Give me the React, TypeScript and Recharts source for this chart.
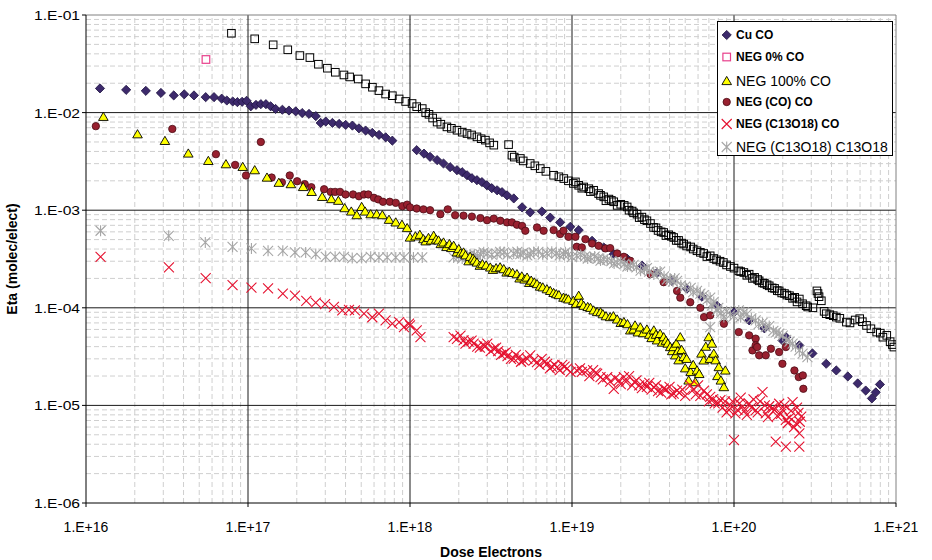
import { ScatterChart, Scatter, XAxis, YAxis, ReferenceLine, Legend, Label } from "recharts";

const FONT = "'Liberation Sans', Arial, sans-serif";

// axis decades and their printed labels
const xDecades = [1e16, 1e17, 1e18, 1e19, 1e20, 1e21];
const xTickLabels = ["1.E+16", "1.E+17", "1.E+18", "1.E+19", "1.E+20", "1.E+21"];
const yDecades = [1e-6, 1e-5, 1e-4, 1e-3, 1e-2, 1e-1];
const yTickLabels = ["1.E-06", "1.E-05", "1.E-04", "1.E-03", "1.E-02", "1.E-01"];
const minorSteps = [2, 3, 4, 5, 6, 7, 8, 9];

const seriesNames = [
  "Cu CO",
  "NEG 0% CO",
  "NEG 100% CO",
  "NEG (CO) CO",
  "NEG (C13O18) CO",
  "NEG (C13O18) C13O18",
];

// [dose, eta] pairs
const cuCO: [number, number][] = [
  [1.22e16, 1.77e-2], [1.77e16, 1.71e-2], [2.34e16, 1.67e-2], [2.9e16, 1.59e-2], [3.48e16, 1.5e-2],
  [4.04e16, 1.54e-2], [4.64e16, 1.5e-2], [5.48e16, 1.44e-2], [6.17e16, 1.44e-2], [6.88e16, 1.39e-2],
  [7.4e16, 1.33e-2], [8.05e16, 1.3e-2], [8.6e16, 1.28e-2], [9.2e16, 1.29e-2], [9.8e16, 1.32e-2],
  [1.04e17, 1.16e-2], [1.12e17, 1.2e-2], [1.2e17, 1.22e-2], [1.29e17, 1.22e-2], [1.38e17, 1.16e-2],
  [1.48e17, 1.09e-2], [1.63e17, 1.07e-2], [1.79e17, 1.05e-2], [1.97e17, 1.03e-2], [2.16e17, 9.9e-3],
  [2.38e17, 9.7e-3], [2.62e17, 9.2e-3], [2.81e17, 7.84e-3], [3.02e17, 8.1e-3], [3.32e17, 7.84e-3],
  [3.65e17, 7.66e-3], [4.01e17, 7.48e-3], [4.41e17, 7.36e-3], [4.84e17, 6.9e-3], [5.32e17, 6.55e-3],
  [5.85e17, 6.2e-3], [6.44e17, 5.91e-3], [7.08e17, 5.58e-3], [7.78e17, 5.16e-3],
  [1.1e18, 4.12e-3], [1.22e18, 3.8e-3], [1.33e18, 3.52e-3], [1.47e18, 3.26e-3], [1.61e18, 3.01e-3],
  [1.77e18, 2.76e-3], [1.95e18, 2.57e-3], [2.1e18, 2.45e-3], [2.25e18, 2.28e-3], [2.41e18, 2.13e-3],
  [2.59e18, 2.03e-3], [2.78e18, 1.94e-3], [2.98e18, 1.8e-3], [3.2e18, 1.68e-3], [3.45e18, 1.6e-3],
  [3.7e18, 1.53e-3], [3.97e18, 1.42e-3], [4.37e18, 1.32e-3], [4.92e18, 1.07e-3], [5.52e18, 9.5e-4],
  [6.52e18, 9.7e-4], [7.34e18, 8.4e-4], [8.45e18, 7.5e-4], [9.76e18, 6.76e-4], [1.1e19, 6.25e-4],
  [1.33e19, 4.86e-4], [1.57e19, 4.15e-4], [1.81e19, 3.55e-4], [2.19e19, 3.18e-4], [2.71e19, 2.7e-4],
  [3.35e19, 2.28e-4], [4.14e19, 1.89e-4], [5.12e19, 1.57e-4], [6.34e19, 1.3e-4], [7.85e19, 1.05e-4],
  [1.0e20, 8.98e-5], [1.24e20, 7.44e-5], [1.54e20, 6.16e-5], [1.99e20, 4.64e-5], [2.1e20, 4.98e-5],
  [2.53e20, 4.12e-5], [3.05e20, 3.41e-5], [3.71e20, 2.67e-5], [4.28e20, 2.28e-5], [5.04e20, 1.98e-5],
  [5.8e20, 1.68e-5], [6.5e20, 1.42e-5], [7.1e20, 1.18e-5], [7.5e20, 1.36e-5], [7.96e20, 1.64e-5],
];

const neg0CO: [number, number][] = [[5.5e16, 3.5e-2]];

// black open squares (no legend entry)
const neg0Black: [number, number][] = [
  [7.9e16, 6.5e-2], [1.1e17, 5.7e-2], [1.43e17, 4.95e-2], [1.76e17, 4.4e-2], [2.09e17, 3.84e-2],
  [2.41e17, 3.66e-2], [2.72e17, 3.13e-2], [3.09e17, 2.85e-2], [3.46e17, 2.59e-2], [3.91e17, 2.43e-2],
  [4.24e17, 2.32e-2], [4.79e17, 2.21e-2], [5.32e17, 1.97e-2], [5.86e17, 1.82e-2], [6.43e17, 1.68e-2],
  [7.07e17, 1.55e-2], [7.78e17, 1.49e-2], [8.57e17, 1.38e-2], [9.4e17, 1.3e-2],
  [1.03e18, 1.24e-2], [1.1e18, 1.15e-2], [1.19e18, 1.1e-2], [1.25e18, 1.0e-2], [1.31e18, 9.6e-3],
  [1.38e18, 8.8e-3], [1.47e18, 8.0e-3], [1.55e18, 7.6e-3], [1.69e18, 7.14e-3], [1.8e18, 6.9e-3],
  [1.95e18, 6.6e-3], [2.1e18, 6.3e-3], [2.25e18, 6.1e-3], [2.4e18, 5.9e-3], [2.59e18, 5.64e-3],
  [2.75e18, 5.4e-3], [2.92e18, 5.22e-3], [3.1e18, 4.9e-3], [3.29e18, 4.64e-3], [4.06e18, 4.7e-3],
  [4.26e18, 3.66e-3], [4.4e18, 3.5e-3], [4.8e18, 3.39e-3], [5.0e18, 3.2e-3], [5.52e18, 3.01e-3],
  [5.9e18, 2.85e-3], [6.37e18, 2.67e-3], [6.9e18, 2.5e-3], [7.7e18, 2.28e-3], [8.3e18, 2.2e-3],
  [8.9e18, 2.11e-3], [9.5e18, 2.0e-3], [1.02e19, 1.88e-3], [1.05e19, 1.95e-3], [1.1e19, 1.8e-3],
  [1.15e19, 1.68e-3], [1.18e19, 1.73e-3], [1.27e19, 1.66e-3], [1.3e19, 1.55e-3], [1.36e19, 1.6e-3],
  [1.46e19, 1.48e-3], [1.5e19, 1.42e-3], [1.57e19, 1.37e-3], [1.62e19, 1.25e-3], [1.69e19, 1.3e-3],
  [1.75e19, 1.26e-3], [1.81e19, 1.22e-3], [1.9e19, 1.12e-3], [2.0e19, 1.15e-3], [2.1e19, 1.12e-3],
  [2.19e19, 1.08e-3], [2.25e19, 1.0e-3], [2.35e19, 9.8e-4], [2.4e19, 9.4e-4], [2.52e19, 9.1e-4],
  [2.6e19, 8.4e-4], [2.7e19, 8.5e-4], [2.8e19, 8.0e-4], [2.9e19, 7.79e-4], [3.05e19, 7.3e-4],
  [3.19e19, 6.66e-4], [3.3e19, 6.6e-4], [3.4e19, 6.2e-4], [3.55e19, 6.0e-4], [3.68e19, 5.91e-4],
  [3.8e19, 5.5e-4], [3.95e19, 5.6e-4], [4.1e19, 5.4e-4], [4.24e19, 5.25e-4], [4.4e19, 4.9e-4],
  [4.55e19, 4.9e-4], [4.75e19, 4.6e-4], [4.89e19, 4.5e-4], [5.1e19, 4.3e-4], [5.4e19, 4.2e-4],
  [5.6e19, 4.0e-4], [5.91e19, 3.84e-4], [6.2e19, 3.7e-4], [6.5e19, 3.6e-4], [6.8e19, 3.35e-4],
  [7.13e19, 3.41e-4], [7.5e19, 3.2e-4], [7.8e19, 3.1e-4], [8.2e19, 3.0e-4], [8.6e19, 2.91e-4],
  [9.0e19, 2.75e-4], [9.5e19, 2.65e-4], [1.0e20, 2.55e-4], [1.07e20, 2.39e-4], [1.1e20, 2.35e-4],
  [1.15e20, 2.3e-4], [1.2e20, 2.15e-4], [1.24e20, 2.21e-4], [1.3e20, 2.0e-4], [1.34e20, 2.05e-4],
  [1.4e20, 1.95e-4], [1.43e20, 1.89e-4], [1.5e20, 1.8e-4], [1.54e20, 1.78e-4], [1.6e20, 1.72e-4],
  [1.65e20, 1.68e-4], [1.72e20, 1.6e-4], [1.78e20, 1.58e-4], [1.85e20, 1.5e-4], [1.9e20, 1.49e-4],
  [1.97e20, 1.42e-4], [2.05e20, 1.4e-4], [2.12e20, 1.35e-4], [2.2e20, 1.33e-4], [2.3e20, 1.25e-4],
  [2.37e20, 1.28e-4], [2.45e20, 1.15e-4], [2.53e20, 1.23e-4], [2.65e20, 1.1e-4], [2.79e20, 1.05e-4],
  [2.85e20, 1.02e-4], [3.07e20, 1.0e-4], [3.25e20, 1.49e-4], [3.3e20, 1.4e-4], [3.35e20, 1.3e-4],
  [3.46e20, 1.18e-4], [3.6e20, 9.2e-5], [3.71e20, 8.7e-5], [3.9e20, 8.5e-5], [4.1e20, 8.3e-5],
  [4.28e20, 8.03e-5], [4.5e20, 7.8e-5], [4.94e20, 7.14e-5], [5.2e20, 7.0e-5], [5.6e20, 7.5e-5],
  [5.97e20, 7.74e-5], [6.2e20, 7.2e-5], [6.58e20, 6.6e-5], [7.0e20, 6.1e-5], [7.6e20, 5.64e-5],
  [8.0e20, 5.5e-5], [8.3e20, 5.0e-5], [8.77e20, 5.22e-5], [9.2e20, 4.5e-5], [9.5e20, 4.2e-5],
  [9.7e20, 3.96e-5],
];

const neg100CO: [number, number][] = [
  [1.28e16, 9.05e-3], [2.08e16, 6.0e-3], [3.07e16, 5.13e-3], [4.28e16, 3.81e-3], [5.69e16, 3.2e-3],
  [7.31e16, 2.96e-3], [9.28e16, 2.78e-3], [1.1e17, 2.57e-3], [1.31e17, 2.16e-3], [1.55e17, 1.91e-3],
  [1.84e17, 1.85e-3], [2.19e17, 1.73e-3], [2.47e17, 1.54e-3], [2.87e17, 1.37e-3], [3.27e17, 1.3e-3],
  [3.61e17, 1.25e-3], [3.95e17, 1.05e-3], [4.34e17, 9.7e-4], [4.69e17, 8.9e-4], [5.03e17, 1.08e-3],
  [5.28e17, 9.7e-4], [5.72e17, 9.1e-4], [6.23e17, 9.1e-4], [6.75e17, 8.9e-4], [7.42e17, 7.98e-4],
  [8.17e17, 7.5e-4], [8.92e17, 7.1e-4], [9.6e17, 6.56e-4], [1.0e18, 5.25e-4], [1.08e18, 5.4e-4],
  [1.15e18, 5.6e-4], [1.21e18, 5.05e-4], [1.25e18, 4.8e-4], [1.3e18, 5.2e-4], [1.35e18, 4.9e-4],
  [1.4e18, 5.47e-4], [1.45e18, 5.0e-4], [1.5e18, 4.9e-4], [1.55e18, 4.5e-4], [1.61e18, 4.67e-4],
  [1.68e18, 4.2e-4], [1.75e18, 4.5e-4], [1.8e18, 4.1e-4], [1.86e18, 4.32e-4], [1.95e18, 3.7e-4],
  [2.0e18, 4.0e-4], [2.05e18, 3.6e-4], [2.14e18, 3.69e-4], [2.2e18, 3.45e-4], [2.3e18, 3.0e-4],
  [2.35e18, 3.33e-4], [2.45e18, 3.2e-4], [2.5e18, 3.05e-4], [2.59e18, 2.91e-4], [2.7e18, 2.7e-4],
  [2.8e18, 2.8e-4], [2.95e18, 2.72e-4], [3.13e18, 2.59e-4], [3.25e18, 2.45e-4], [3.4e18, 2.55e-4],
  [3.6e18, 2.6e-4], [3.79e18, 2.49e-4], [3.95e18, 2.3e-4], [4.1e18, 2.35e-4], [4.3e18, 2.28e-4],
  [4.57e18, 2.21e-4], [4.75e18, 2.0e-4], [4.9e18, 2.1e-4], [5.1e18, 1.95e-4], [5.28e18, 2.04e-4],
  [5.45e18, 1.8e-4], [5.6e18, 1.9e-4], [5.85e18, 1.82e-4], [6.08e18, 1.75e-4], [6.35e18, 1.65e-4],
  [6.6e18, 1.62e-4], [7.0e18, 1.55e-4], [7.34e18, 1.49e-4], [7.7e18, 1.42e-4], [8.0e18, 1.38e-4],
  [8.3e18, 1.35e-4], [8.86e18, 1.27e-4], [9.2e18, 1.25e-4], [9.5e18, 1.22e-4], [1.02e19, 1.18e-4],
  [1.06e19, 1.1e-4], [1.1e19, 1.33e-4], [1.14e19, 1.12e-4], [1.18e19, 1.05e-4], [1.25e19, 1.02e-4],
  [1.3e19, 1.0e-4], [1.36e19, 9.4e-5], [1.43e19, 9.05e-5], [1.5e19, 9.0e-5], [1.55e19, 8.6e-5],
  [1.62e19, 8.2e-5], [1.72e19, 8.03e-5], [1.8e19, 8.2e-5], [1.9e19, 7.6e-5], [2.0e19, 7.0e-5],
  [2.09e19, 7.14e-5], [2.2e19, 6.8e-5], [2.29e19, 5.87e-5], [2.4e19, 6.0e-5], [2.45e19, 6.6e-5],
  [2.55e19, 5.6e-5], [2.64e19, 6.3e-5], [2.75e19, 5.5e-5], [2.9e19, 6.0e-5], [3.0e19, 5.3e-5],
  [3.1e19, 4.9e-5], [3.2e19, 5.87e-5], [3.3e19, 5.3e-5], [3.35e19, 4.64e-5], [3.5e19, 5.4e-5],
  [3.6e19, 4.4e-5], [3.68e19, 5.0e-5], [3.8e19, 4.6e-5], [3.9e19, 4.3e-5], [4.04e19, 3.96e-5],
  [4.15e19, 3.6e-5], [4.24e19, 3.96e-5], [4.34e19, 3.26e-5], [4.4e19, 4.3e-5], [4.5e19, 3.6e-5],
  [4.55e19, 2.9e-5], [4.66e19, 5.0e-5], [4.75e19, 3.7e-5], [4.89e19, 3.13e-5], [5.0e19, 2.4e-5],
  [5.1e19, 3.0e-5], [5.25e19, 1.8e-5], [5.4e19, 2.2e-5], [5.6e19, 2.6e-5], [5.77e19, 1.73e-5],
  [5.91e19, 2.28e-5], [6.1e19, 2.1e-5], [6.3e19, 3.4e-5], [6.5e19, 2.89e-5], [6.7e19, 4.0e-5],
  [6.98e19, 5.0e-5], [7.1e19, 3.0e-5], [7.3e19, 4.3e-5], [7.5e19, 3.39e-5], [7.7e19, 2.9e-5],
  [7.9e19, 2.0e-5], [8.06e19, 2.47e-5], [8.3e19, 1.8e-5], [8.66e19, 1.54e-5], [8.84e19, 2.28e-5],
];

const negCOCO: [number, number][] = [
  [1.15e16, 7.26e-3], [3.41e16, 6.8e-3], [6.34e16, 3.75e-3], [8.33e16, 2.91e-3], [9.72e16, 2.27e-3],
  [1.2e17, 5.0e-3], [1.4e17, 2.16e-3], [1.62e17, 1.93e-3], [1.81e17, 2.27e-3], [2.01e17, 1.98e-3],
  [2.24e17, 1.85e-3], [2.46e17, 1.72e-3], [2.95e17, 1.64e-3], [3.24e17, 1.54e-3], [3.45e17, 1.54e-3],
  [3.7e17, 1.54e-3], [4.0e17, 1.45e-3], [4.45e17, 1.45e-3], [4.84e17, 1.39e-3], [5.2e17, 1.45e-3],
  [5.53e17, 1.45e-3], [5.99e17, 1.34e-3], [6.37e17, 1.29e-3], [6.81e17, 1.22e-3], [7.5e17, 1.22e-3],
  [8.17e17, 1.19e-3], [8.97e17, 1.1e-3], [9.6e17, 1.14e-3], [1.0e18, 1.07e-3], [1.1e18, 1.04e-3],
  [1.21e18, 1.02e-3], [1.33e18, 1.0e-3], [1.54e18, 9.1e-4], [1.71e18, 1.02e-3], [1.9e18, 8.9e-4],
  [2.14e18, 8.8e-4], [2.41e18, 8.6e-4], [2.72e18, 8.3e-4], [2.99e18, 7.9e-4], [3.29e18, 8.2e-4],
  [3.61e18, 7.8e-4], [3.97e18, 7.5e-4], [4.26e18, 7.5e-4], [4.57e18, 7.1e-4], [4.92e18, 6.9e-4],
  [5.15e18, 6.16e-4], [6.08e18, 6.66e-4], [6.68e18, 6.16e-4], [7.7e18, 6.25e-4], [8.45e18, 5.7e-4],
  [8.86e18, 6.16e-4], [9.52e18, 5.34e-4], [1.05e19, 5.34e-4], [1.07e19, 4.22e-4], [1.15e19, 4.15e-4],
  [1.21e19, 5.05e-4], [1.33e19, 4.56e-4], [1.46e19, 4.32e-4], [1.61e19, 4.06e-4], [1.72e19, 4.09e-4],
  [1.9e19, 3.6e-4], [2.09e19, 3.33e-4], [2.29e19, 3.03e-4], [3.05e19, 2.21e-4], [3.68e19, 1.83e-4],
  [4.45e19, 1.49e-4], [4.66e19, 1.27e-4], [5.37e19, 1.14e-4], [6.2e19, 1.0e-4], [6.53e19, 8.03e-5],
  [7.13e19, 8.37e-5], [8.66e19, 6.87e-5], [1.07e20, 5.64e-5], [1.24e20, 5.22e-5], [1.3e20, 3.66e-5],
  [1.36e20, 4.83e-5], [1.36e20, 4.12e-5], [1.39e20, 3.96e-5], [1.43e20, 3.26e-5], [1.57e20, 3.26e-5],
  [1.69e20, 3.81e-5], [1.9e20, 3.52e-5], [1.99e20, 2.67e-5], [2.09e20, 3.96e-5], [2.36e20, 2.28e-5],
  [2.51e20, 1.95e-5], [2.66e20, 2.03e-5], [2.68e20, 1.48e-5],
];

const negC13CO: [number, number][] = [
  [1.23e16, 3.33e-4], [3.25e16, 2.59e-4], [5.48e16, 2.01e-4], [8.03e16, 1.71e-4], [1.05e17, 1.61e-4],
  [1.33e17, 1.58e-4], [1.64e17, 1.4e-4], [1.95e17, 1.33e-4], [2.29e17, 1.18e-4], [2.62e17, 1.13e-4],
  [2.99e17, 1.09e-4], [3.39e17, 1.02e-4], [3.82e17, 9.4e-5], [4.2e17, 9.5e-5], [4.57e17, 9.4e-5],
  [5.2e17, 8.7e-5], [5.85e17, 8.0e-5], [6.43e17, 8.7e-5], [7.07e17, 7.44e-5], [7.78e17, 6.87e-5],
  [8.57e17, 7.14e-5], [9.18e17, 6.34e-5], [9.86e17, 6.87e-5], [1.0e18, 6.6e-5], [1.1e18, 5.87e-5],
  [1.16e18, 5.0e-5], [1.86e18, 5.0e-5], [1.95e18, 4.8e-5], [2.05e18, 5.2e-5], [2.14e18, 4.64e-5],
  [2.2e18, 4.3e-5], [2.3e18, 4.5e-5], [2.4e18, 4.6e-5], [2.47e18, 4.29e-5], [2.6e18, 4.0e-5],
  [2.7e18, 3.9e-5], [2.85e18, 4.12e-5], [2.9e18, 4.0e-5], [3.0e18, 4.3e-5], [3.15e18, 3.6e-5],
  [3.29e18, 3.81e-5], [3.4e18, 3.9e-5], [3.5e18, 3.6e-5], [3.65e18, 3.3e-5], [3.79e18, 3.39e-5],
  [3.9e18, 3.5e-5], [4.0e18, 3.2e-5], [4.2e18, 3.0e-5], [4.37e18, 3.01e-5], [4.5e18, 3.3e-5],
  [4.7e18, 3.1e-5], [4.85e18, 2.8e-5], [5.03e18, 2.89e-5], [5.3e18, 3.0e-5], [5.52e18, 3.26e-5],
  [5.8e18, 2.9e-5], [6.08e18, 2.78e-5], [6.3e18, 2.6e-5], [6.5e18, 3.0e-5], [6.8e18, 2.8e-5],
  [7.02e18, 2.67e-5], [7.3e18, 2.4e-5], [7.5e18, 2.5e-5], [7.8e18, 2.6e-5], [8.09e18, 2.47e-5],
  [8.4e18, 2.3e-5], [8.7e18, 2.6e-5], [9.0e18, 2.5e-5], [9.32e18, 2.38e-5], [9.8e18, 2.2e-5],
  [1.07e19, 2.28e-5], [1.12e19, 2.4e-5], [1.15e19, 2.2e-5], [1.24e19, 2.28e-5], [1.28e19, 2.0e-5],
  [1.35e19, 2.3e-5], [1.4e19, 2.15e-5], [1.43e19, 2.11e-5], [1.5e19, 1.95e-5], [1.55e19, 1.85e-5],
  [1.65e19, 1.95e-5], [1.72e19, 1.75e-5], [1.81e19, 1.48e-5], [1.85e19, 1.9e-5], [1.95e19, 1.8e-5],
  [2.0e19, 1.65e-5], [2.09e19, 1.95e-5], [2.15e19, 1.75e-5], [2.25e19, 2.0e-5], [2.35e19, 1.6e-5],
  [2.43e19, 1.73e-5], [2.5e19, 1.8e-5], [2.6e19, 1.6e-5], [2.7e19, 1.5e-5], [2.8e19, 1.67e-5],
  [2.9e19, 1.55e-5], [3.0e19, 1.7e-5], [3.1e19, 1.45e-5], [3.2e19, 1.54e-5], [3.3e19, 1.6e-5],
  [3.4e19, 1.4e-5], [3.55e19, 1.35e-5], [3.68e19, 1.49e-5], [3.8e19, 1.45e-5], [4.0e19, 1.55e-5],
  [4.1e19, 1.3e-5], [4.24e19, 1.32e-5], [4.45e19, 1.42e-5], [4.6e19, 1.35e-5], [4.8e19, 1.45e-5],
  [5.0e19, 1.25e-5], [5.37e19, 1.6e-5], [5.6e19, 1.45e-5], [5.8e19, 1.3e-5], [6.0e19, 1.6e-5],
  [6.2e19, 1.25e-5], [6.53e19, 1.42e-5], [6.8e19, 1.3e-5], [7.0e19, 1.1e-5], [7.13e19, 1.22e-5],
  [7.4e19, 1.15e-5], [7.6e19, 1.05e-5], [8.0e19, 1.05e-5], [8.24e19, 1.13e-5], [8.5e19, 9.5e-6],
  [8.8e19, 1.1e-5], [9.0e19, 8.5e-6], [9.3e19, 9.0e-6], [9.52e19, 1.0e-5], [9.8e19, 1.1e-5],
  [1.0e20, 4.4e-6], [1.02e20, 8.3e-6], [1.05e20, 9.0e-6], [1.08e20, 1.05e-5], [1.1e20, 1.2e-5],
  [1.13e20, 9.7e-6], [1.16e20, 8.8e-6], [1.2e20, 8.0e-6], [1.24e20, 1.04e-5], [1.28e20, 9.5e-6],
  [1.32e20, 1.15e-5], [1.36e20, 8.9e-6], [1.4e20, 8.5e-6], [1.45e20, 1.1e-5], [1.5e20, 1.37e-5],
  [1.55e20, 1.0e-5], [1.57e20, 8.3e-6], [1.62e20, 7.6e-6], [1.65e20, 9.8e-6], [1.73e20, 9.4e-6],
  [1.78e20, 9.0e-6], [1.81e20, 4.25e-6], [1.85e20, 7.8e-6], [1.9e20, 1.04e-5], [1.95e20, 8.2e-6],
  [2.0e20, 9.0e-6], [2.05e20, 1.0e-5], [2.09e20, 3.78e-6], [2.09e20, 7.1e-6], [2.15e20, 6.6e-6],
  [2.2e20, 7.5e-6], [2.25e20, 8.8e-6], [2.3e20, 1.08e-5], [2.35e20, 6.0e-6], [2.42e20, 6.56e-6],
  [2.45e20, 9.5e-6], [2.5e20, 8.4e-6], [2.53e20, 5.18e-6], [2.53e20, 3.78e-6], [2.55e20, 6.8e-6],
  [2.6e20, 7.67e-6],
];

const negC13C13: [number, number][] = [
  [1.23e16, 6.16e-4], [3.24e16, 5.47e-4], [5.45e16, 4.67e-4], [8.03e16, 4.22e-4], [1.05e17, 4.06e-4],
  [1.33e17, 3.84e-4], [1.64e17, 3.84e-4], [1.95e17, 3.69e-4], [2.27e17, 3.69e-4], [2.62e17, 3.55e-4],
  [3.02e17, 3.33e-4], [3.45e17, 3.33e-4], [3.91e17, 3.33e-4], [4.4e17, 3.23e-4], [5.03e17, 3.23e-4],
  [5.72e17, 3.33e-4], [6.43e17, 3.28e-4], [7.23e17, 3.28e-4], [8.17e17, 3.28e-4], [9.18e17, 3.28e-4],
  [1.05e18, 3.28e-4], [1.19e18, 3.28e-4], [1.86e18, 3.28e-4], [2.0e18, 3.35e-4], [2.1e18, 3.2e-4],
  [2.25e18, 3.41e-4], [2.35e18, 3.5e-4], [2.5e18, 3.5e-4], [2.6e18, 3.4e-4], [2.72e18, 3.55e-4],
  [2.85e18, 3.7e-4], [3.0e18, 3.6e-4], [3.2e18, 3.5e-4], [3.45e18, 3.55e-4], [3.6e18, 3.75e-4],
  [3.8e18, 3.7e-4], [4.0e18, 3.5e-4], [4.37e18, 3.6e-4], [4.6e18, 3.75e-4], [4.8e18, 3.55e-4],
  [5.0e18, 3.65e-4], [5.3e18, 3.45e-4], [5.52e18, 3.55e-4], [5.8e18, 3.7e-4], [6.2e18, 3.75e-4],
  [6.6e18, 3.5e-4], [7.02e18, 3.6e-4], [7.5e18, 3.75e-4], [8.0e18, 3.6e-4], [8.4e18, 3.45e-4],
  [8.86e18, 3.55e-4], [9.1e18, 3.7e-4], [9.5e18, 3.5e-4], [1.0e19, 3.3e-4], [1.07e19, 3.41e-4],
  [1.13e19, 3.5e-4], [1.2e19, 3.35e-4], [1.25e19, 3.2e-4], [1.3e19, 3.28e-4], [1.38e19, 3.35e-4],
  [1.45e19, 3.2e-4], [1.5e19, 3.05e-4], [1.57e19, 3.16e-4], [1.65e19, 3.1e-4], [1.75e19, 3.0e-4],
  [1.82e19, 2.85e-4], [1.9e19, 2.91e-4], [2.0e19, 2.95e-4], [2.1e19, 2.8e-4], [2.2e19, 2.65e-4],
  [2.29e19, 2.7e-4], [2.4e19, 2.75e-4], [2.5e19, 2.6e-4], [2.65e19, 2.4e-4], [2.8e19, 2.49e-4],
  [2.9e19, 2.55e-4], [3.0e19, 2.35e-4], [3.2e19, 2.2e-4], [3.35e19, 2.3e-4], [3.5e19, 2.35e-4],
  [3.7e19, 2.1e-4], [3.85e19, 1.95e-4], [4.04e19, 1.97e-4], [4.2e19, 1.85e-4], [4.3e19, 2.0e-4],
  [4.45e19, 1.89e-4], [4.7e19, 1.7e-4], [5.0e19, 1.65e-4], [5.4e19, 1.6e-4], [5.6e19, 1.45e-4],
  [5.91e19, 1.49e-4], [6.2e19, 1.4e-4], [6.5e19, 1.35e-4], [6.8e19, 1.2e-4], [7.13e19, 1.27e-4],
  [7.13e19, 6.34e-5], [7.3e19, 1.05e-4], [7.5e19, 1.15e-4], [7.85e19, 9.4e-5], [8.0e19, 1.0e-4],
  [8.3e19, 8.8e-5], [8.66e19, 8.03e-5], [9.0e19, 9.2e-5], [9.5e19, 8.5e-5], [1.0e20, 8.2e-5],
  [1.07e20, 9.4e-5], [1.1e20, 8.0e-5], [1.15e20, 9.0e-5], [1.2e20, 8.6e-5], [1.28e20, 7.8e-5],
  [1.36e20, 7.44e-5], [1.42e20, 6.8e-5], [1.5e20, 7.0e-5], [1.57e20, 6.34e-5], [1.65e20, 6.5e-5],
  [1.75e20, 5.8e-5], [1.82e20, 5.6e-5], [1.9e20, 5.43e-5], [2.0e20, 5.2e-5], [2.1e20, 4.7e-5],
  [2.2e20, 4.5e-5], [2.3e20, 4.29e-5], [2.4e20, 4.0e-5], [2.53e20, 3.66e-5], [2.65e20, 3.4e-5],
  [2.84e20, 3.13e-5],
];

const toPoints = (pairs: [number, number][]) => pairs.map(([x, y]) => ({ x, y }));

// ---- marker shapes ----
const Diamond = ({ cx, cy }: any) => (
  <path
    d={`M${cx},${cy - 4.6}L${cx + 4.6},${cy}L${cx},${cy + 4.6}L${cx - 4.6},${cy}Z`}
    fill="#3d2a6c"
    stroke="#1d1240"
    strokeWidth={0.8}
  />
);
const BlackSquare = ({ cx, cy }: any) => (
  <rect x={cx - 3.8} y={cy - 3.8} width={7.6} height={7.6} fill="none" stroke="#000" strokeWidth={1} />
);
const PinkSquare = ({ cx, cy }: any) => (
  <rect x={cx - 3.8} y={cy - 3.8} width={7.6} height={7.6} fill="#fff" stroke="#e8408c" strokeWidth={1.2} />
);
const Triangle = ({ cx, cy }: any) => (
  <path
    d={`M${cx},${cy - 4.6}L${cx + 4.8},${cy + 3.6}L${cx - 4.8},${cy + 3.6}Z`}
    fill="#ffff00"
    stroke="#000"
    strokeWidth={0.9}
  />
);
const Dot = ({ cx, cy }: any) => (
  <circle cx={cx} cy={cy} r={3.7} fill="#98202f" stroke="#4b0d15" strokeWidth={0.8} />
);
const Cross = ({ cx, cy }: any) => (
  <path
    d={`M${cx - 5},${cy - 5}L${cx + 5},${cy + 5}M${cx - 5},${cy + 5}L${cx + 5},${cy - 5}`}
    stroke="#e5112f"
    strokeWidth={1.1}
    fill="none"
  />
);
const Star = ({ cx, cy }: any) => (
  <path
    d={`M${cx - 5},${cy - 5}L${cx + 5},${cy + 5}M${cx - 5},${cy + 5}L${cx + 5},${cy - 5}M${cx},${cy - 5.5}L${cx},${cy + 5.5}`}
    stroke="#a6a6a6"
    strokeWidth={1.1}
    fill="none"
  />
);

function XTick({ x, y, payload }: any) {
  return (
    <text x={x} y={y + 22.5} textAnchor="middle" fontSize={14} fontFamily={FONT} fill="#000">
      {xTickLabels[xDecades.indexOf(payload.value)]}
    </text>
  );
}

function YTick({ x, y, payload }: any) {
  return (
    <text
      x={x}
      y={y + 5}
      textAnchor="end"
      fontSize={13.5}
      textLength={46}
      lengthAdjust="spacingAndGlyphs"
      fontFamily={FONT}
      fill="#000"
    >
      {yTickLabels[yDecades.indexOf(payload.value)]}
    </text>
  );
}

function LegendBox() {
  const rows = [
    { Shape: Diamond, bold: true, top: 13 },
    { Shape: PinkSquare, bold: true, top: 35 },
    { Shape: Triangle, bold: false, top: 59 },
    { Shape: Dot, bold: true, top: 80 },
    { Shape: Cross, bold: true, top: 102 },
    { Shape: Star, bold: false, top: 125 },
  ];
  return (
    <div
      style={{
        position: "relative",
        width: 176,
        height: 135,
        boxSizing: "border-box",
        border: "1px solid #000",
        background: "#fff",
        fontFamily: FONT,
        color: "#000",
      }}
    >
      {rows.map((r, i) => (
        <div
          key={seriesNames[i]}
          style={{ position: "absolute", left: 0, top: r.top - 11, height: 22, display: "flex", alignItems: "center" }}
        >
          <svg width={18} height={22} style={{ display: "block" }}>
            <r.Shape cx={8.7} cy={11} />
          </svg>
          <span style={{ fontSize: r.bold ? 12 : 14, fontWeight: r.bold ? 700 : 400, whiteSpace: "nowrap" }}>
            {seriesNames[i]}
          </span>
        </div>
      ))}
    </div>
  );
}

export default function App() {
  const xMinor = xDecades.slice(0, -1).flatMap((d) => minorSteps.map((m) => m * d));
  const yMinor = yDecades.slice(0, -1).flatMap((d) => minorSteps.map((m) => m * d));

  return (
    <div style={{ position: "absolute", left: 0, top: 0, background: "#fff" }}>
      <ScatterChart width={932} height={560} margin={{ top: 15, right: 36, bottom: 0, left: 0 }}>
        <XAxis
          type="number"
          dataKey="x"
          scale="log"
          domain={[1e16, 1e21]}
          ticks={xDecades}
          interval={0}
          allowDataOverflow
          height={57}
          tickSize={4}
          tickMargin={2}
          tick={<XTick />}
          axisLine={{ stroke: "#000" }}
          tickLine={{ stroke: "#000" }}
        >
          <Label
            content={({ viewBox }: any) => (
              <text
                x={viewBox.x + viewBox.width / 2}
                y={viewBox.y + 53.5}
                textAnchor="middle"
                fontSize={14}
                fontWeight={700}
                fontFamily={FONT}
                fill="#000"
              >
                Dose Electrons
              </text>
            )}
          />
        </XAxis>
        <YAxis
          type="number"
          dataKey="y"
          scale="log"
          domain={[1e-6, 1e-1]}
          ticks={yDecades}
          interval={0}
          allowDataOverflow
          width={86}
          tickSize={4}
          tickMargin={2}
          tick={<YTick />}
          axisLine={{ stroke: "#000" }}
          tickLine={{ stroke: "#000" }}
        >
          <Label
            content={({ viewBox }: any) => {
              const cx = 12;
              const cy = viewBox.y + viewBox.height / 2;
              return (
                <text
                  x={cx}
                  y={cy}
                  transform={`rotate(-90 ${cx} ${cy})`}
                  textAnchor="middle"
                  dominantBaseline="central"
                  fontSize={14}
                  fontWeight={700}
                  fontFamily={FONT}
                  fill="#000"
                >
                  Eta (molec/elect)
                </text>
              );
            }}
          />
        </YAxis>

        {xMinor.map((v) => (
          <ReferenceLine key={`xm${v}`} x={v} stroke="#cfcfcf" strokeDasharray="5 3" />
        ))}
        {yMinor.map((v) => (
          <ReferenceLine key={`ym${v}`} y={v} stroke="#cfcfcf" strokeDasharray="5 3" />
        ))}
        {xDecades.slice(1, -1).map((v) => (
          <ReferenceLine key={`xM${v}`} x={v} stroke="#1a1a1a" />
        ))}
        {yDecades.slice(1, -1).map((v) => (
          <ReferenceLine key={`yM${v}`} y={v} stroke="#1a1a1a" />
        ))}
        <ReferenceLine x={xDecades[xDecades.length - 1]} stroke="#808080" />
        <ReferenceLine y={yDecades[yDecades.length - 1]} stroke="#808080" />

        <Scatter name={seriesNames[0]} data={toPoints(cuCO)} shape={Diamond} isAnimationActive={false} />
        <Scatter name={seriesNames[3]} data={toPoints(negCOCO)} shape={Dot} isAnimationActive={false} />
        <Scatter name={seriesNames[5]} data={toPoints(negC13C13)} shape={Star} isAnimationActive={false} />
        <Scatter name={seriesNames[2]} data={toPoints(neg100CO)} shape={Triangle} isAnimationActive={false} />
        <Scatter name={seriesNames[4]} data={toPoints(negC13CO)} shape={Cross} isAnimationActive={false} />
        <Scatter name="NEG 0% CO (black)" data={toPoints(neg0Black)} shape={BlackSquare} isAnimationActive={false} />
        <Scatter name={seriesNames[1]} data={toPoints(neg0CO)} shape={PinkSquare} isAnimationActive={false} />

        <Legend
          content={() => <LegendBox />}
          layout="horizontal"
          verticalAlign="middle"
          align="center"
          wrapperStyle={{ left: 717, top: 21, width: 176, height: 135 }}
        />
      </ScatterChart>
    </div>
  );
}
